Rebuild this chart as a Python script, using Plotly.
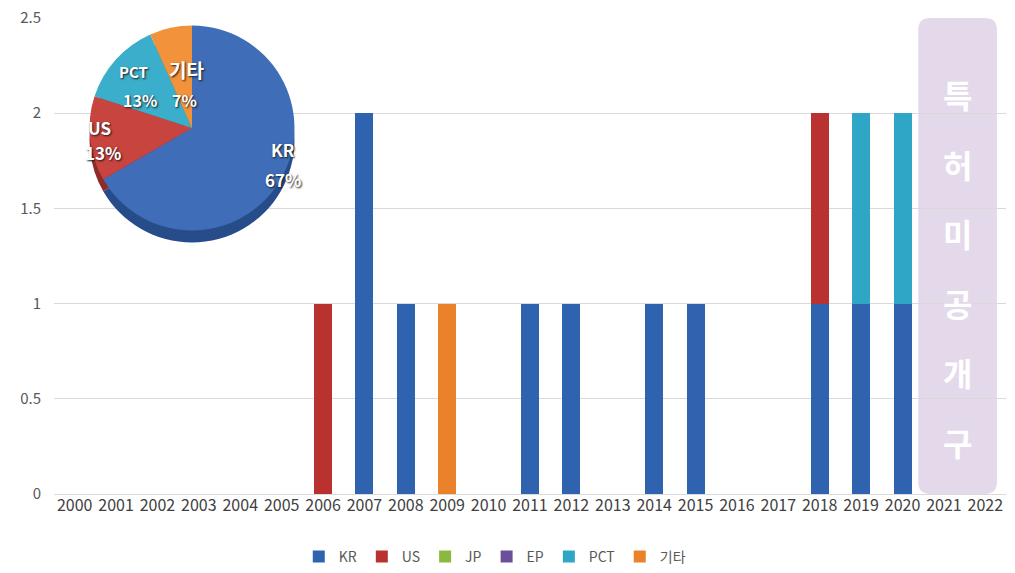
import plotly.graph_objects as go

years = [str(y) for y in range(2000, 2023)]
kr =  [0,0,0,0,0,0,0,2,1,0,0,1,1,0,1,1,0,0,1,1,1,0,0]
us =  [0,0,0,0,0,0,1,0,0,0,0,0,0,0,0,0,0,0,1,0,0,0,0]
jp =  [0]*23
ep =  [0]*23
pct = [0,0,0,0,0,0,0,0,0,0,0,0,0,0,0,0,0,0,0,1,1,0,0]
etc = [0,0,0,0,0,0,0,0,0,1,0,0,0,0,0,0,0,0,0,0,0,0,0]

series_names = ["KR", "US", "JP", "EP", "PCT", "기타"]
series_vals = [kr, us, jp, ep, pct, etc]
bar_colors = ["#2F63B0", "#BA3230", "#8DB83E", "#6A4F9A", "#2FA6C6", "#E9822A"]

pie_labels = ["KR", "US", "PCT", "기타"]
pie_values = [sum(kr), sum(us), sum(pct), sum(etc)]
pie_colors = ["#3F6DB8", "#C8443F", "#3AAECB", "#F2923A"]
pie_side_colors = ["#264C8A", "#8E2A27", "#237F97", "#B8681F"]
# label positions (paper coords): name line and percent line, plus font sizes
pie_name_pos = [(0.2405, 0.7227), (0.0483, 0.7710), (0.0830, 0.8866), (0.1397, 0.8908)]
pie_pct_pos = [(0.2405, 0.6597), (0.0515, 0.7164), (0.0903, 0.8277), (0.1376, 0.8277)]
pie_name_size = [17, 17, 15, 19]
pie_pct_size = [17, 17, 16, 16]

side_chars = ["특", "허", "미", "공", "개", "구"]

FONT = "Noto Sans CJK KR, Open Sans, sans-serif"

fig = go.Figure()
for name, vals, col in zip(series_names, series_vals, bar_colors):
    fig.add_trace(go.Bar(
        x=years, y=[v if v else None for v in vals], name=name,
        marker=dict(color=col, line=dict(width=0)),
    ))

# 3D side of pie
fig.add_trace(go.Pie(
    labels=pie_labels, values=pie_values, sort=False, direction="clockwise",
    rotation=0, marker=dict(colors=pie_side_colors, line=dict(width=0)),
    textinfo="none", hoverinfo="skip", showlegend=False,
    domain=dict(x=[0.0373, 0.2526], y=[0.5284, 0.9590]),
))
fig.add_trace(go.Pie(
    labels=pie_labels, values=pie_values, sort=False, direction="clockwise",
    rotation=0, marker=dict(colors=pie_colors, line=dict(width=0)),
    textinfo="none", showlegend=False,
    domain=dict(x=[0.0373, 0.2526], y=[0.5536, 0.9842]),
))
total = sum(pie_values)
for lab, val, npos, ppos, ns, ps in zip(pie_labels, pie_values, pie_name_pos,
                                         pie_pct_pos, pie_name_size, pie_pct_size):
    for txt, (px, py), sz in ((lab, npos, ns), (f"{round(100 * val / total)}%", ppos, ps)):
        fig.add_annotation(x=px, y=py, xref="paper", yref="paper", showarrow=False,
                           xanchor="center", yanchor="middle",
                           text=f"<b>{txt}</b>",
                           font=dict(size=sz, color="white", family=FONT,
                                     shadow="1px 1px 2px #1a1a1a"))

# lavender "unpublished" box
x0, x1, y0, y1, r = 20.38, 22.28, 0.0, 2.5, 0.3
ry = 0.06
path = (f"M {x0+r} {y0} L {x1-r} {y0} Q {x1} {y0} {x1} {y0+ry} "
        f"L {x1} {y1-ry} Q {x1} {y1} {x1-r} {y1} L {x0+r} {y1} "
        f"Q {x0} {y1} {x0} {y1-ry} L {x0} {y0+ry} Q {x0} {y0} {x0+r} {y0} Z")
fig.add_shape(type="path", path=path, xref="x", yref="y",
              fillcolor="#E3D9EA", line=dict(width=0), layer="below")
for i, ch in enumerate(side_chars):
    fig.add_annotation(x=21.33, y=2.10 - i * 0.365, xref="x", yref="y",
                       text=f"<b>{ch}</b>", showarrow=False,
                       xanchor="center", yanchor="middle",
                       font=dict(size=32, color="white", family=FONT))

fig.update_layout(
    width=1015, height=573,
    margin=dict(l=54, r=9, t=18, b=79, autoexpand=False),
    barmode="stack", bargap=0.565,
    plot_bgcolor="white", paper_bgcolor="white",
    font=dict(family=FONT, color="#595959"),
    xaxis=dict(type="category", tickfont=dict(size=16, color="#404040"),
               tickangle=0, automargin=False,
               showgrid=False, showline=False, ticks=""),
    yaxis=dict(range=[0, 2.5], dtick=0.5, showgrid=True, gridcolor="#D9D9D9",
               zeroline=True, zerolinecolor="#D9D9D9", zerolinewidth=1,
               tickfont=dict(size=15, color="#595959"), ticks="", automargin=False,
               ticklabelstandoff=12, tickformat="~g"),
    legend=dict(orientation="h", x=0.463, xanchor="center", y=-0.132, yanchor="middle",
                font=dict(size=14, color="#595959"), itemwidth=30,
                traceorder="normal"),
    showlegend=True,
)

fig.write_html("out.html")
